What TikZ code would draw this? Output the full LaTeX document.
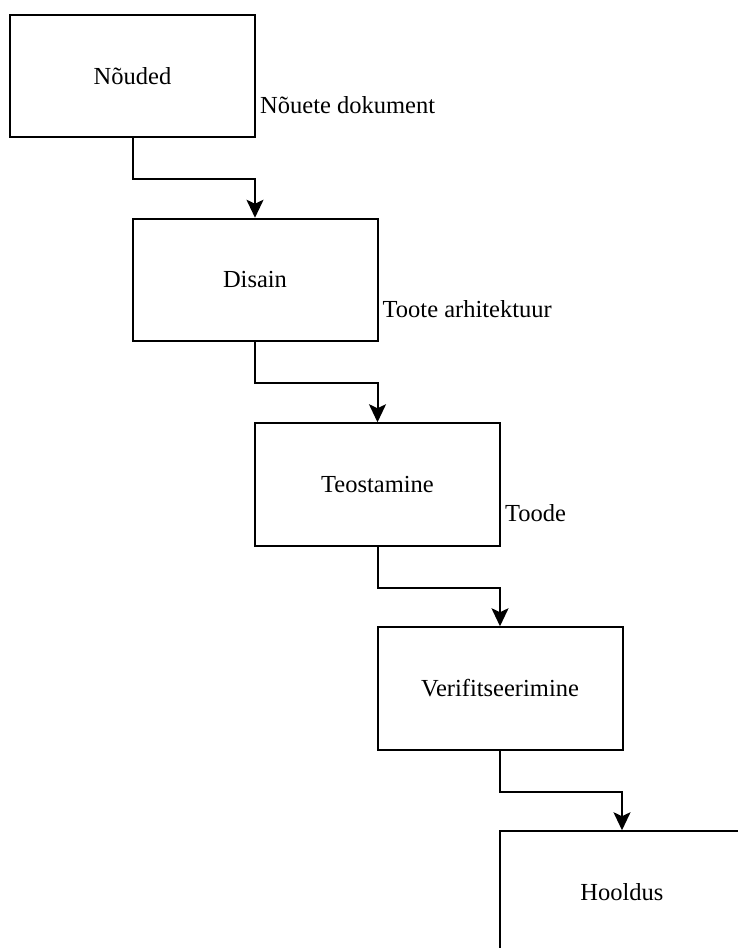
\documentclass[tikz,border=0pt]{standalone}
\usepackage{fontspec}
\setmainfont{Liberation Serif}
\usetikzlibrary{arrows.meta}
\begin{document}
\begin{tikzpicture}[x=1pt,y=-1pt,
  stagebox/.style={draw=black, line width=2pt, minimum width=245pt, minimum height=122.5pt, inner sep=0pt, font=\fontsize{24.5}{29}\selectfont},
  flowlabel/.style={anchor=west, inner sep=0pt, font=\fontsize{24.5}{29}\selectfont},
  flowline/.style={draw=black, line width=2pt, arrows={-Stealth[length=18pt,width=17pt,inset=4pt]}}]
\useasboundingbox (0,0) rectangle (738,948);
\clip (0,0) rectangle (738,948);
\node[stagebox] (n1) at (132.5,76) {Nõuded};
\node[stagebox] (n2) at (255,280) {Disain};
\node[stagebox] (n3) at (377.5,484.5) {Teostamine};
\node[stagebox] (n4) at (500,688.5) {Verifitseerimine};
\node[stagebox] (n5) at (622,892.5) {Hooldus};
\node[flowlabel] (l1) at ([xshift=4pt,yshift=-29pt]n1.east) {Nõuete dokument};
\node[flowlabel] (l2) at ([xshift=4pt,yshift=-29pt]n2.east) {Toote arhitektuur};
\node[flowlabel] (l3) at ([xshift=4pt,yshift=-29pt]n3.east) {Toode};
\draw[flowline] (n1.south) |- ([yshift=-41pt]n1.south -| n2.north) -- (n2.north);
\draw[flowline] (n2.south) |- ([yshift=-41pt]n2.south -| n3.north) -- (n3.north);
\draw[flowline] (n3.south) |- ([yshift=-41pt]n3.south -| n4.north) -- (n4.north);
\draw[flowline] (n4.south) |- ([yshift=-41pt]n4.south -| n5.north) -- (n5.north);
\end{tikzpicture}
\end{document}
